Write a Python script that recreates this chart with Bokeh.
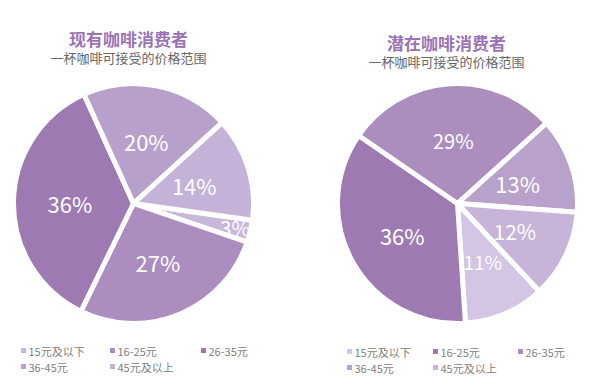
import numpy as np
from bokeh.plotting import figure
from bokeh.models import ColumnDataSource, Range1d
from bokeh.core.properties import value
from bokeh.embed import file_html
from bokeh.resources import INLINE

# ---- data ----
categories = ["15元及以下", "16-25元", "26-35元", "36-45元", "45元及以上"]
current_values = [3, 27, 36, 20, 14]
potential_values = [11, 36, 29, 13, 12]
current_colors = ["#C9B7DA", "#AB8EBF", "#9D7AB1", "#B7A0CB", "#C5B2D8"]
potential_colors = ["#D3C5E3", "#9D7AB1", "#AB8DBE", "#B8A2CC", "#C7B4D8"]
titles = ["现有咖啡消费者", "潜在咖啡消费者"]
subtitle = "一杯咖啡可接受的价格范围"

FONT = "Noto Sans CJK SC"

W, H = 585, 380
p = figure(width=W, height=H, output_backend="svg", toolbar_location=None,
           x_range=Range1d(0, W), y_range=Range1d(-H, 0),
           min_border=0)
p.axis.visible = False
p.grid.visible = False
p.outline_line_color = None
p.background_fill_color = "white"

R = 120
panels = [
    dict(cx=133, cy=203, vals=current_values, cols=current_colors, start=-8,
         fs=["20px", "22px", "22px", "22px", "22px"],
         title=titles[0], tx=128, ty=38, sy=57, lx=[23, 112, 203], ly=[350, 366]),
    dict(cx=457, cy=203, vals=potential_values, cols=potential_colors, start=-47,
         fs=["19px", "22px", "20px", "22px", "21px"],
         title=titles[1], tx=446, ty=42, sy=61, lx=[349, 435, 520], ly=[351, 367]),
]

for pan in panels:
    vals = np.array(pan["vals"], dtype=float)
    tot = vals.sum()
    spans = vals / tot * 360.0
    before = np.concatenate([[0], np.cumsum(spans)[:-1]])
    a0 = pan["start"] - before
    a1 = a0 - spans
    src = ColumnDataSource(dict(
        x=[pan["cx"]] * len(vals), y=[-pan["cy"]] * len(vals),
        s=a1, e=a0, c=pan["cols"]))
    p.wedge(x="x", y="y", radius=R, start_angle="s", end_angle="e",
            start_angle_units="deg", end_angle_units="deg",
            direction="anticlock", fill_color="c", line_color="white",
            line_width=5, source=src)
    mid = np.deg2rad((a0 + a1) / 2)
    lr = np.where(vals >= 5, 0.53 * R, 0.87 * R)
    lsrc = ColumnDataSource(dict(
        x=pan["cx"] + lr * np.cos(mid), y=-pan["cy"] + lr * np.sin(mid),
        t=[f"{int(v)}%" for v in vals], fs=pan["fs"]))
    p.text(x="x", y="y", text="t", source=lsrc, text_color="white",
           text_font=value(FONT), text_font_size="fs",
           text_align="center", text_baseline="middle")
    # titles
    p.text(x=[pan["tx"]], y=[-pan["ty"]], text=[pan["title"]],
           text_color="#9A72B6", text_font=value(FONT), text_font_size="17px",
           text_font_style="bold", text_align="center", text_baseline="middle")
    p.text(x=[pan["tx"]], y=[-pan["sy"]], text=[subtitle],
           text_color="#666666", text_font=value(FONT), text_font_size="13px",
           text_align="center", text_baseline="middle")
    # legend
    lxs, lys = [], []
    for i in range(len(categories)):
        lxs.append(pan["lx"][i % 3])
        lys.append(-pan["ly"][i // 3])
    gsrc = ColumnDataSource(dict(x=lxs, y=lys, tx=[v + 5 for v in lxs],
                                 t=categories, c=pan["cols"]))
    p.scatter(x="x", y="y", marker="square", size=5, fill_color="c",
              line_color=None, source=gsrc)
    p.text(x="tx", y="y", text="t", source=gsrc, text_color="#808080",
           text_font=value(FONT), text_font_size="11px",
           text_align="left", text_baseline="middle")

open("out.html", "w").write(file_html(p, INLINE))
